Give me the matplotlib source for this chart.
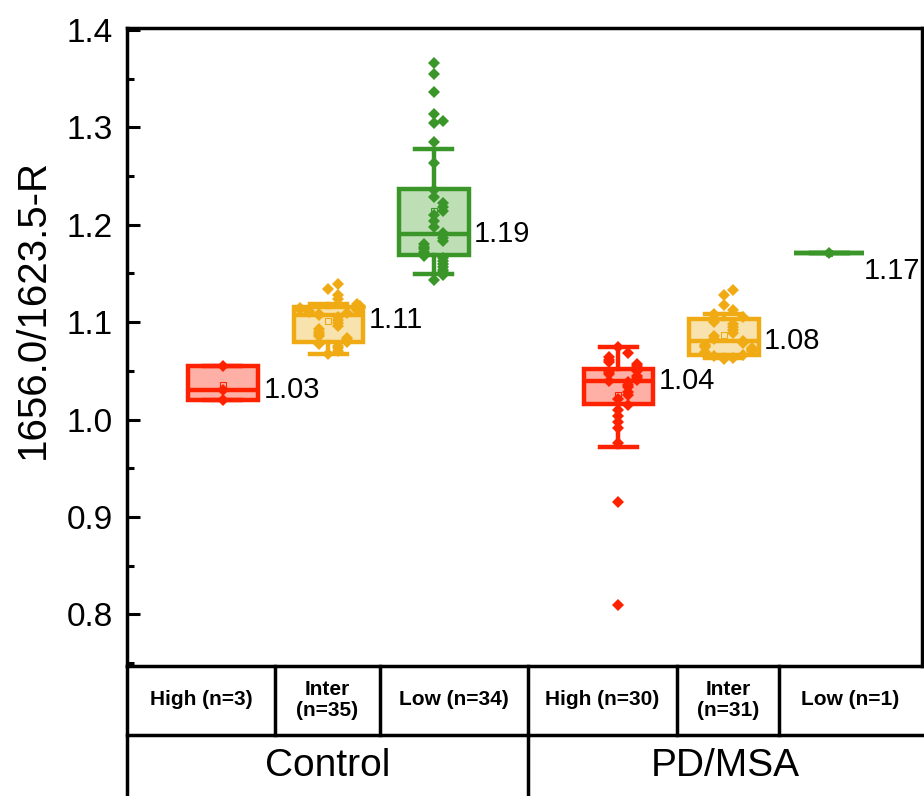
import numpy as np
import matplotlib.pyplot as plt
from matplotlib.ticker import MultipleLocator

plt.rcParams['font.family'] = ['Liberation Sans', 'DejaVu Sans']

# ---- data ----
groups = ['Control', 'PD/MSA']
levels = ['High (n=3)', 'Inter\n(n=35)', 'Low (n=34)',
          'High (n=30)', 'Inter\n(n=31)', 'Low (n=1)']

ctrl_high = [1.020, 1.030, 1.055]
ctrl_inter = [1.139, 1.134, 1.128, 1.124, 1.119, 1.117, 1.116, 1.115, 1.115, 1.114,
              1.113, 1.113, 1.112, 1.111, 1.110, 1.109, 1.108, 1.107, 1.105, 1.102,
              1.099, 1.096, 1.093, 1.090, 1.088, 1.086, 1.084, 1.082, 1.080, 1.079,
              1.078, 1.076, 1.073, 1.070, 1.067]
ctrl_low = [1.366, 1.355, 1.336, 1.314, 1.307, 1.304, 1.285, 1.263,
            1.236, 1.228, 1.222, 1.218, 1.214, 1.210, 1.204, 1.198,
            1.192, 1.189,
            1.186, 1.183, 1.180, 1.177, 1.175, 1.172, 1.170,
            1.168, 1.166, 1.163, 1.160, 1.157, 1.154, 1.151, 1.148, 1.143]
pd_high = [1.075, 1.068, 1.064, 1.061, 1.059, 1.057, 1.055,
           1.053, 1.052, 1.050, 1.049, 1.047, 1.045, 1.043, 1.041,
           1.040, 1.039,
           1.036, 1.033, 1.028, 1.025, 1.021,
           1.015, 1.010, 1.004, 0.998, 0.991, 0.976, 0.915, 0.810]
pd_inter = [1.133, 1.128, 1.118, 1.112, 1.108, 1.105, 1.104,
            1.102, 1.100, 1.098, 1.095, 1.092, 1.089, 1.086, 1.083,
            1.081,
            1.079, 1.077, 1.076, 1.075, 1.073, 1.072, 1.071, 1.070, 1.069,
            1.068, 1.067, 1.066, 1.065, 1.063, 1.062]
pd_low = [1.171]

samples = [ctrl_high, ctrl_inter, ctrl_low, pd_high, pd_inter, pd_low]

# box statistics as drawn
q1 = [1.020, 1.080, 1.169, 1.016, 1.066, 1.171]
med = [1.030, 1.107, 1.190, 1.040, 1.081, 1.171]
q3 = [1.055, 1.116, 1.237, 1.052, 1.103, 1.171]
whislo = [1.020, 1.067, 1.149, 0.972, 1.063, 1.171]
whishi = [1.055, 1.119, 1.278, 1.075, 1.108, 1.171]

# ---- style ----
line_cols = ['#FF2200', '#F0AA14', '#3A9629', '#FF2200', '#F0AA14', '#3A9629']
fill_cols = ['#FFB0A6', '#F8E3AE', '#BEDFB6', '#FFB0A6', '#F8E3AE', '#BEDFB6']
pos = [1, 2, 3, 4.75, 5.75, 6.75]
label_dy = [0, -0.005, 0, 0, 0, -0.018]
label_dx = [4, 4, 4, 4, 4, 0]


def swarm_offsets(vals, step=0.09, bin_w=0.006, lim=0.3):
    vals = np.asarray(vals)
    offs = np.zeros(len(vals))
    placed = []
    for i in np.argsort(vals):
        k = sum(1 for p in placed if abs(p - vals[i]) < bin_w)
        placed.append(vals[i])
        s = (k + 1) // 2 * (1 if k % 2 else -1)
        offs[i] = np.clip(s * step, -lim, lim)
    return offs


fig = plt.figure(figsize=(9.24, 7.96), dpi=100)
ax = fig.add_axes([127 / 924, 130 / 796, 795 / 924, 638 / 796])

for i in range(len(samples)):
    stats = [dict(q1=q1[i], med=med[i], q3=q3[i], whislo=whislo[i],
                  whishi=whishi[i], mean=np.mean(samples[i]), fliers=[])]
    c = line_cols[i]
    ax.bxp(stats, positions=[pos[i]], widths=0.66, patch_artist=True,
           showmeans=True, capwidths=0.35,
           boxprops=dict(facecolor=fill_cols[i], edgecolor=c, linewidth=3.2),
           medianprops=dict(color=c, linewidth=3.2),
           whiskerprops=dict(color=c, linewidth=3.2),
           capprops=dict(color=c, linewidth=3.2),
           meanprops=dict(marker='s', markerfacecolor='none', markeredgecolor=c,
                          markersize=5, markeredgewidth=0.8))
    xs = pos[i] + swarm_offsets(samples[i])
    ax.plot(xs, samples[i], 'D', color=c, markersize=6.5, markeredgewidth=0,
            zorder=5)
    ax.annotate(f'{med[i]:.2f}', xy=(pos[i] + 0.33, med[i] + label_dy[i]),
                xytext=(label_dx[i], 0), textcoords='offset points',
                ha='left', va='center', fontsize=21)

ax.set_xlim(0.09, 7.63)
ax.set_ylim(0.747, 1.402)
ax.yaxis.set_major_locator(MultipleLocator(0.1))
ax.yaxis.set_minor_locator(MultipleLocator(0.05))
ax.yaxis.set_major_formatter(plt.FormatStrFormatter('%.1f'))
ax.tick_params(axis='y', which='major', direction='in', length=9, width=2.2,
               labelsize=24, pad=10)
ax.tick_params(axis='y', which='minor', direction='in', length=5, width=2.2)
ax.set_xticks([])
for s in ['left', 'top', 'right']:
    ax.spines[s].set_linewidth(2.5)
ax.spines['bottom'].set_visible(False)
ax.set_ylabel('1656.0/1623.5-R', fontsize=29)
ax.yaxis.set_label_coords(-0.094, 0.56)

# ---- category table under the plot ----
tab = fig.add_axes([127 / 924, 0, 795 / 924, 130 / 796])
tab.set_xlim(127, 922)
tab.set_ylim(796, 666)
tab.axis('off')
kw = dict(color='black', lw=2.5, clip_on=False, solid_capstyle='projecting')
tab.plot([127, 922], [666, 666], **kw)
tab.plot([127, 922], [735, 735], **kw)
tab.plot([127, 127], [666, 796], **kw)
cell_edges = [127, 275, 380, 528, 677, 779, 922]
for x in cell_edges[1:-1]:
    tab.plot([x, x], [666, 735], **kw)
tab.plot([528, 528], [735, 796], **kw)

for j, lab in enumerate(levels):
    xc = (cell_edges[j] + cell_edges[j + 1]) / 2
    tab.text(xc, 700, lab, ha='center', va='center', fontsize=15,
             fontweight='bold', linespacing=1.15)
for g, lab in enumerate(groups):
    xc = (cell_edges[3 * g] + cell_edges[3 * g + 3]) / 2
    tab.text(xc, 766, lab, ha='center', va='center', fontsize=28)

fig.savefig('out.png', dpi=100)
